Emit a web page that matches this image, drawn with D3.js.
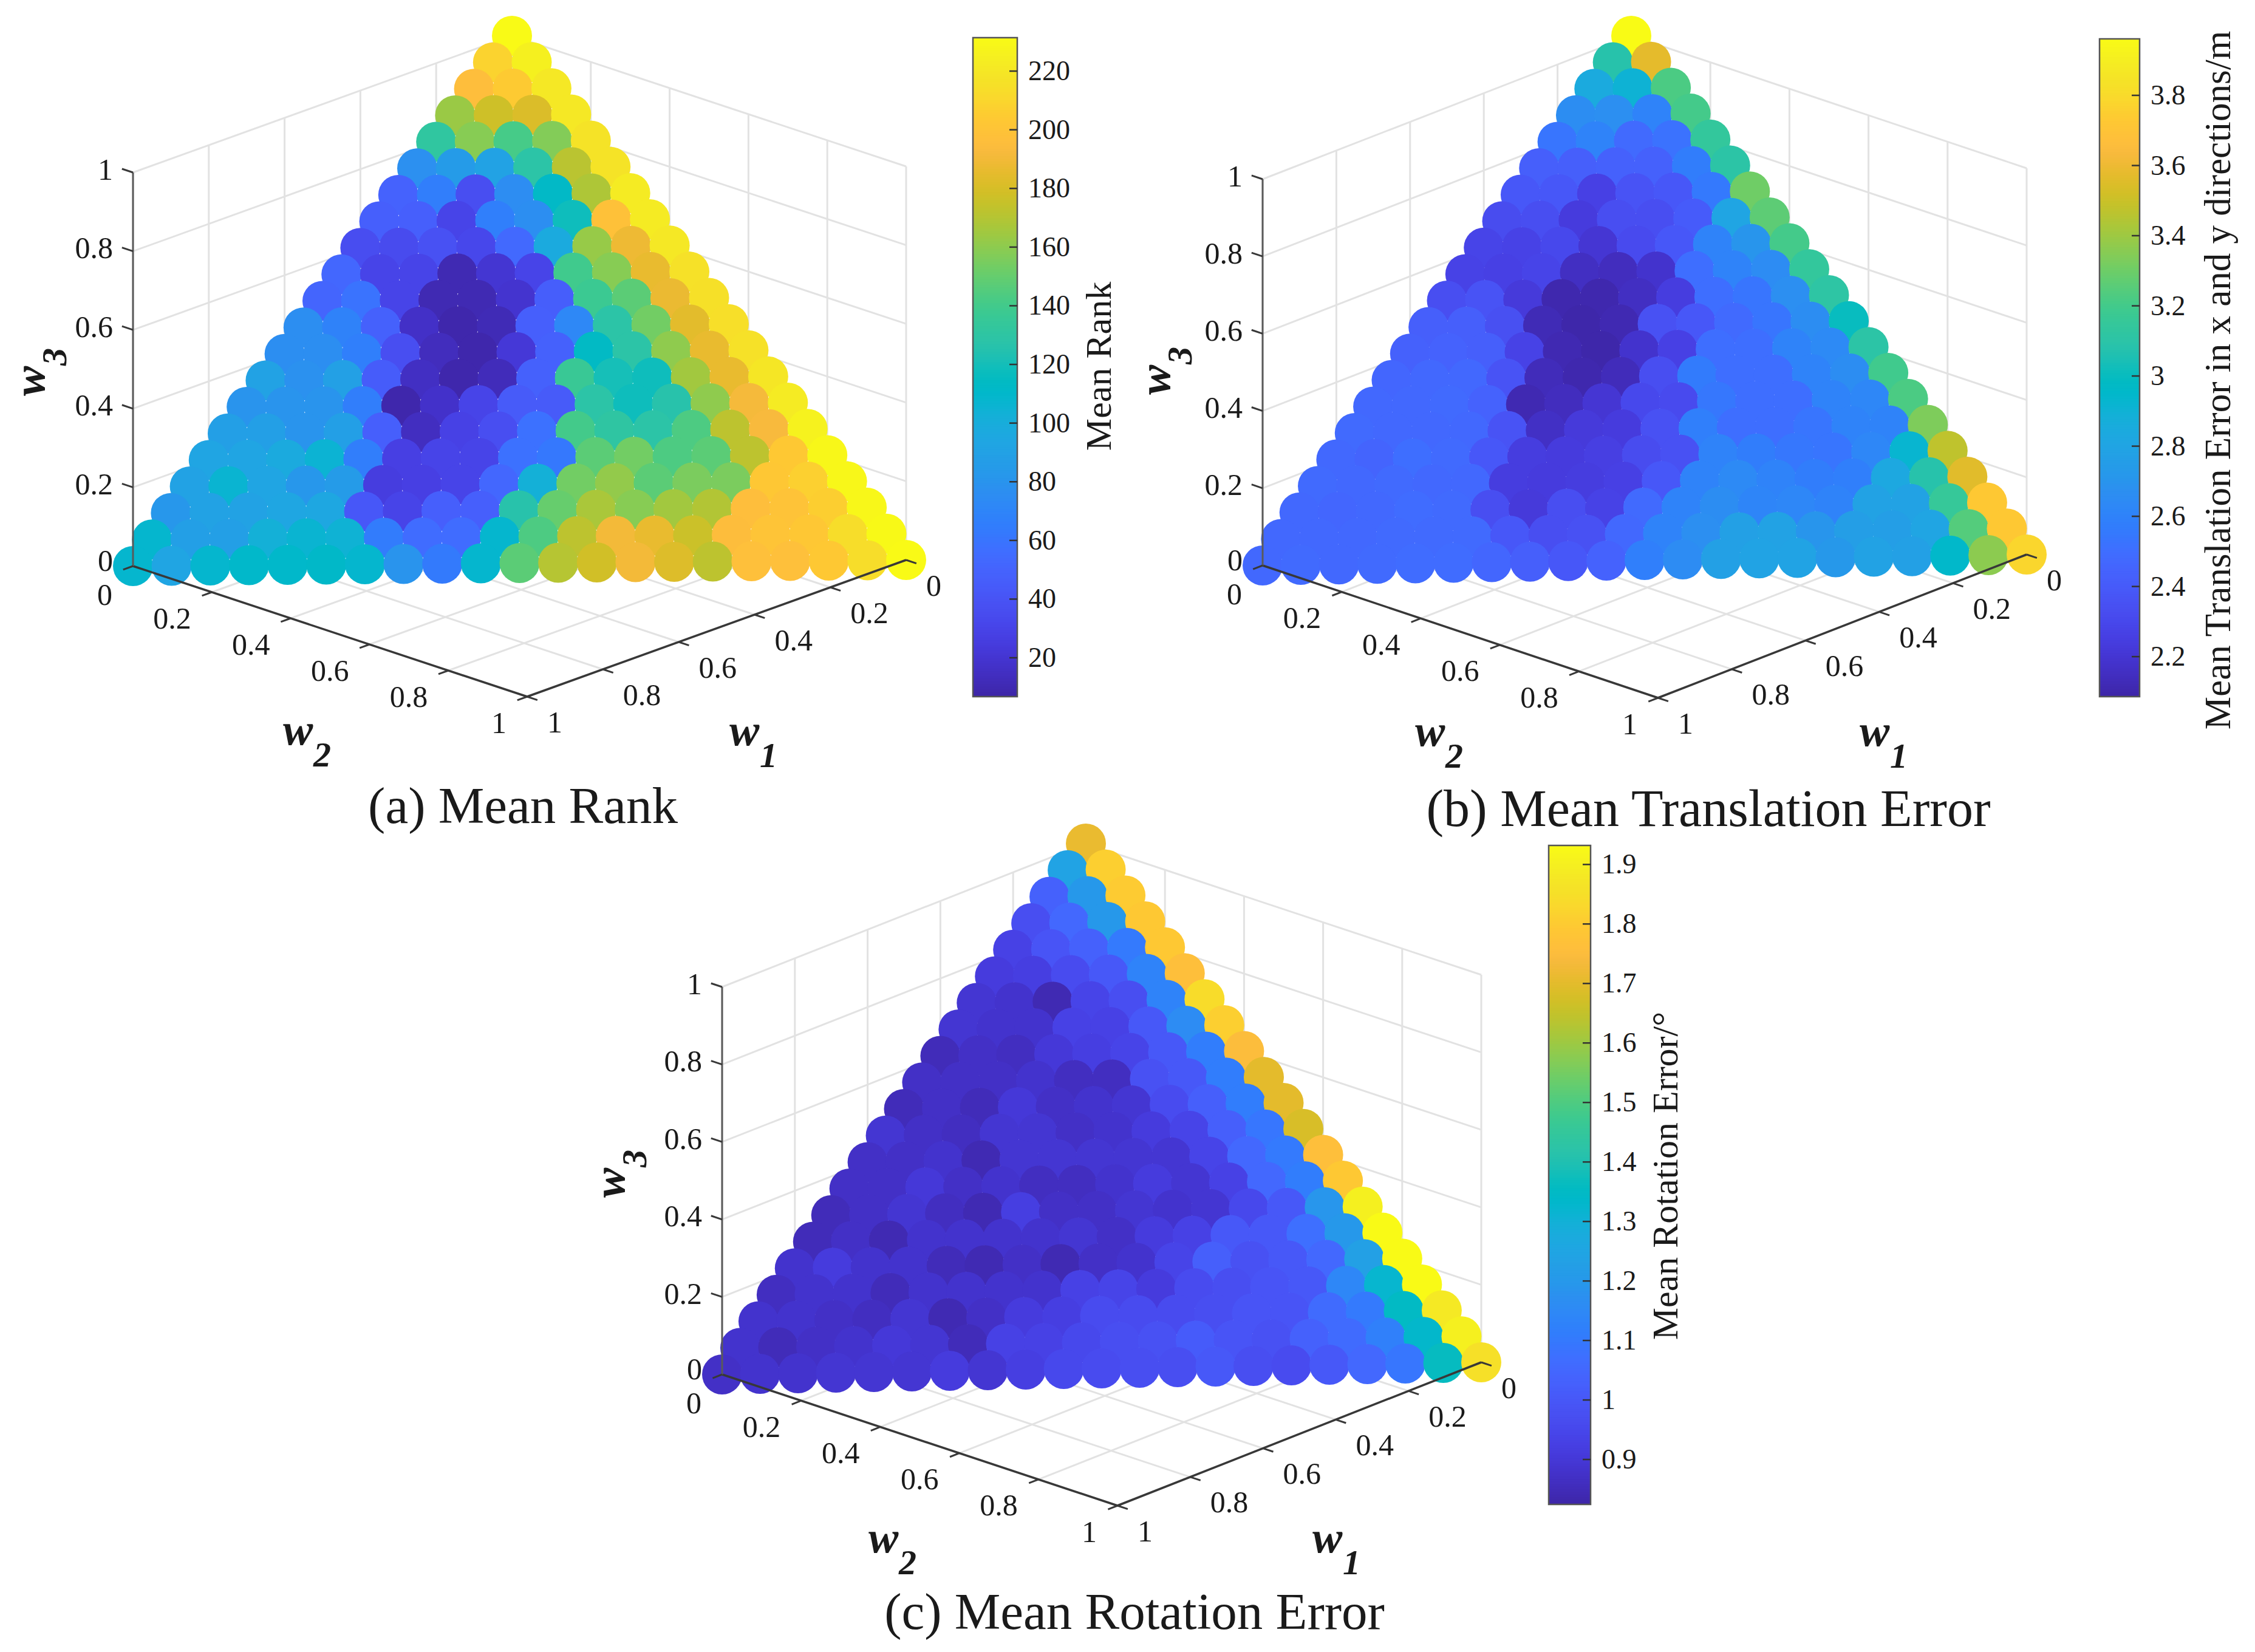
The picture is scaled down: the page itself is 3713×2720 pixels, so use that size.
<!DOCTYPE html>
<html>
<head>
<meta charset="utf-8">
<script src="https://cdn.jsdelivr.net/npm/d3@7"></script>
<style>
  body { margin: 0; background: #fff; }
  text { font-family: "Liberation Serif", serif; fill: #1a1a1a; }
</style>
</head>
<body>
<div id="graph"></div>
<script>
// values per row, from the apex (w3 = 1) down to the base (w3 = 0), left to right
const meanRank = [
  [231],
  [208, 225],
  [196, 204, 220],
  [163, 177, 181, 220],
  [131, 158, 141, 157, 217],
  [77, 85, 90, 128, 171, 217],
  [49, 65, 36, 75, 112, 168, 222],
  [47, 47, 30, 66, 76, 118, 198, 222],
  [35, 34, 38, 32, 53, 97, 162, 188, 220],
  [52, 30, 30, 10, 20, 30, 139, 158, 186, 216],
  [51, 59, 30, 10, 10, 19, 46, 137, 147, 187, 215],
  [76, 68, 48, 16, 8, 11, 47, 72, 128, 153, 184, 214],
  [76, 76, 66, 36, 13, 8, 22, 48, 113, 128, 160, 186, 216],
  [90, 78, 89, 45, 15, 8, 12, 48, 136, 120, 118, 165, 186, 219],
  [80, 80, 80, 65, 8, 17, 30, 44, 44, 128, 118, 126, 160, 191, 222],
  [88, 88, 80, 88, 47, 14, 28, 36, 58, 140, 130, 128, 143, 172, 192, 226],
  [92, 92, 97, 105, 65, 27, 30, 30, 58, 62, 147, 153, 143, 147, 172, 203, 229],
  [90, 106, 92, 82, 85, 25, 27, 30, 52, 102, 153, 161, 147, 155, 155, 202, 207, 229],
  [82, 90, 90, 93, 94, 42, 30, 47, 47, 126, 150, 167, 158, 165, 169, 196, 199, 206, 229],
  [108, 88, 88, 102, 106, 104, 64, 55, 55, 108, 143, 172, 190, 186, 176, 195, 200, 202, 213, 230],
  [108, 92, 108, 110, 110, 111, 108, 80, 63, 108, 147, 170, 178, 190, 182, 172, 197, 197, 203, 213, 231]
];

const meanTranslation = [
  [3.96],
  [3.08, 3.57],
  [2.84, 2.9, 3.22],
  [2.66, 2.67, 2.6, 3.2],
  [2.53, 2.6, 2.48, 2.52, 3.14],
  [2.42, 2.42, 2.43, 2.43, 2.57, 3.1],
  [2.38, 2.38, 2.26, 2.36, 2.38, 2.55, 3.3],
  [2.32, 2.33, 2.23, 2.33, 2.33, 2.4, 2.8, 3.26],
  [2.28, 2.27, 2.3, 2.2, 2.31, 2.38, 2.6, 2.7, 3.2],
  [2.27, 2.26, 2.28, 2.15, 2.14, 2.18, 2.5, 2.6, 2.65, 3.14],
  [2.33, 2.36, 2.22, 2.1, 2.1, 2.15, 2.24, 2.5, 2.53, 2.67, 3.11],
  [2.42, 2.42, 2.34, 2.12, 2.09, 2.11, 2.35, 2.38, 2.48, 2.53, 2.66, 3.0],
  [2.43, 2.44, 2.42, 2.27, 2.11, 2.09, 2.18, 2.26, 2.5, 2.5, 2.6, 2.64, 3.1],
  [2.46, 2.47, 2.47, 2.36, 2.13, 2.1, 2.13, 2.33, 2.56, 2.5, 2.5, 2.6, 2.66, 3.19],
  [2.47, 2.47, 2.48, 2.44, 2.11, 2.14, 2.2, 2.3, 2.31, 2.54, 2.5, 2.5, 2.6, 2.62, 3.22],
  [2.48, 2.47, 2.47, 2.47, 2.36, 2.16, 2.22, 2.23, 2.35, 2.58, 2.5, 2.5, 2.53, 2.6, 2.6, 3.33],
  [2.47, 2.45, 2.5, 2.48, 2.38, 2.24, 2.23, 2.25, 2.32, 2.35, 2.6, 2.57, 2.54, 2.53, 2.62, 2.92, 3.47],
  [2.48, 2.47, 2.48, 2.47, 2.47, 2.24, 2.23, 2.24, 2.26, 2.38, 2.6, 2.64, 2.6, 2.57, 2.58, 2.82, 3.08, 3.56],
  [2.47, 2.46, 2.47, 2.49, 2.48, 2.33, 2.22, 2.33, 2.27, 2.48, 2.6, 2.66, 2.61, 2.62, 2.6, 2.78, 2.78, 3.15, 3.72],
  [2.47, 2.47, 2.47, 2.48, 2.48, 2.48, 2.38, 2.33, 2.35, 2.47, 2.6, 2.67, 2.77, 2.78, 2.7, 2.76, 2.76, 2.8, 3.24, 3.72],
  [2.47, 2.48, 2.47, 2.48, 2.49, 2.49, 2.46, 2.42, 2.38, 2.44, 2.58, 2.65, 2.77, 2.79, 2.79, 2.72, 2.78, 2.77, 2.95, 3.36, 3.78]
];

const meanRotation = [
  [1.71],
  [1.24, 1.81],
  [1.03, 1.2, 1.8],
  [.97, 1.05, 1.2, 1.79],
  [.93, .99, 1.03, 1.1, 1.79],
  [.91, .92, .96, 1.0, 1.13, 1.76],
  [.89, .88, .84, .94, .97, 1.13, 1.84],
  [.89, .88, .88, .93, .93, 1.0, 1.16, 1.81],
  [.85, .87, .86, .9, .92, .94, 1.0, 1.11, 1.75],
  [.87, .87, .87, .88, .86, .86, .98, 1.0, 1.11, 1.7],
  [.85, .87, .85, .9, .87, .88, .89, .96, 1.02, 1.11, 1.7],
  [.89, .87, .86, .89, .89, .87, .88, .91, .94, 1.02, 1.09, 1.68],
  [.87, .87, .88, .84, .89, .89, .89, .89, .89, .94, 1.05, 1.1, 1.76],
  [.87, .87, .9, .87, .88, .86, .86, .88, .91, .89, .93, 1.05, 1.11, 1.79],
  [.85, .87, .89, .86, .84, .92, .87, .87, .89, .88, .89, .95, 1.0, 1.19, 1.9],
  [.85, .87, .84, .88, .88, .88, .88, .89, .87, .91, .93, 1.0, 1.0, 1.07, 1.2, 1.93],
  [.88, .91, .88, .88, .85, .84, .87, .84, .87, .88, .94, 1.02, .98, 1.0, 1.05, 1.23, 1.93],
  [.86, .88, .88, .85, .88, .88, .88, .88, .93, .94, .91, .96, .97, .99, 1.0, 1.14, 1.32, 1.93],
  [.88, .88, .87, .86, .89, .84, .87, .91, .92, .96, .96, .96, .97, .99, .99, 1.06, 1.1, 1.35, 1.88],
  [.88, .85, .87, .88, .9, .89, .85, .93, .93, .95, .97, .98, 1.01, .99, .98, 1.03, 1.06, 1.12, 1.33, 1.9],
  [.87, .88, .88, .89, .89, .89, .91, .89, .92, .95, .96, .97, .97, 1.0, .97, .96, 1.0, 1.05, 1.09, 1.36, 1.85]
];

const axisTicks = [0, 0.2, 0.4, 0.6, 0.8, 1];
const rankTicks = [20, 40, 60, 80, 100, 120, 140, 160, 180, 200, 220];
const translationTicks = [2.2, 2.4, 2.6, 2.8, 3, 3.2, 3.4, 3.6, 3.8];
const rotationTicks = [0.9, 1, 1.1, 1.2, 1.3, 1.4, 1.5, 1.6, 1.7, 1.8, 1.9];

// parula
const parula = [
  [.2422,.1504,.6603],[.2504,.165,.7076],[.2578,.1818,.7511],[.2647,.1978,.7952],
  [.2706,.2147,.8364],[.2751,.2342,.871],[.2783,.2559,.8991],[.2803,.2782,.9221],
  [.2813,.3006,.9414],[.281,.3228,.9579],[.2795,.3447,.9717],[.276,.3667,.9829],
  [.2699,.3892,.9906],[.2602,.4123,.9952],[.244,.4358,.9988],[.2206,.4603,.9973],
  [.1963,.4847,.9892],[.1834,.5074,.9798],[.1786,.5289,.9682],[.1764,.5499,.952],
  [.1687,.5703,.9359],[.154,.5902,.9218],[.146,.6091,.9079],[.138,.6276,.8973],
  [.1248,.6459,.8883],[.1113,.6635,.8763],[.0952,.6798,.8598],[.0689,.6948,.8394],
  [.0297,.7082,.8163],[.0036,.7203,.7917],[.0067,.7312,.766],[.0433,.7411,.7394],
  [.0964,.75,.712],[.1408,.7584,.6842],[.1717,.767,.6554],[.1938,.7758,.6251],
  [.2161,.7843,.5923],[.247,.7918,.5567],[.2906,.7973,.5188],[.3406,.8008,.4789],
  [.3909,.8029,.4354],[.4456,.8024,.3909],[.5044,.7993,.348],[.5616,.7942,.3045],
  [.6174,.7876,.2612],[.672,.7793,.2227],[.7242,.7698,.191],[.7738,.7598,.1646],
  [.8203,.7498,.1535],[.8634,.7406,.1596],[.9035,.733,.1774],[.9393,.7288,.21],
  [.9728,.7298,.2394],[.9956,.7434,.2371],[.997,.7659,.2199],[.9952,.7861,.1999],
  [.9892,.8134,.1884],[.9786,.8422,.1766],[.9676,.8725,.161],[.961,.889,.1537],
  [.9597,.9135,.1423],[.9626,.9373,.1265],[.9691,.9606,.1064],[.9769,.9839,.0805]
].map(c => d3.rgb(c[0] * 255, c[1] * 255, c[2] * 255).formatRgb());

const panels = [
  { values: meanRank, domain: [6.75, 231.4], ticks: rankTicks, title: 'Mean Rank', caption: '(a) Mean Rank',
    left: [219, 932], right: [1492, 922], bottom: [868, 1147], height: 648,
    w1Label: [1201, 1227], w2Label: [466, 1226], w3Label: [73, 652],
    bar: [1602, 1675, 62, 1147], barRange: [1147, 62], titleX: 1811, titleY: 603, titleSize: 60,
    captionAt: [861, 1355], captionSize: 85 },
  { values: meanTranslation, domain: [2.086, 3.961], ticks: translationTicks, title: 'Mean Translation Error in x and y directions/m', caption: '(b) Mean Translation Error',
    left: [2079, 931], right: [3337, 913], bottom: [2730, 1149], height: 636,
    w1Label: [3062, 1228], w2Label: [2330, 1228], w3Label: [1926, 650],
    bar: [3457, 3523, 64, 1147], barRange: [1147, 64], titleX: 3654, titleY: 626, titleSize: 61,
    captionAt: [2813, 1360], captionSize: 86 },
  { values: meanRotation, domain: [0.8245, 1.932], ticks: rotationTicks, title: 'Mean Rotation Error/°', caption: '(c) Mean Rotation Error',
    left: [1189, 2263], right: [2439, 2243], bottom: [1840, 2479], height: 638,
    w1Label: [2161, 2556], w2Label: [1430, 2556], w3Label: [1028, 1972],
    bar: [2550, 2619, 1392, 2477], barRange: [2477, 1392], titleX: 2744, titleY: 1936, titleSize: 60,
    captionAt: [1868, 2682], captionSize: 85 }
];

const svg = d3.select('#graph').append('svg')
  .attr('width', 3713)
  .attr('height', 2720)
  .style('display', 'block');

const gridColor = '#e2e2e2';
const axisColor = '#383838';

function drawPanel(p) {
  const g = svg.append('g');
  const ox = p.left[0] + p.right[0] - p.bottom[0];
  const oy = p.left[1] + p.right[1] - p.bottom[1];

  // one scale per axis, the three get added up for the projection
  const x1 = d3.scaleLinear().domain([0, 1]).range([0, p.left[0] - ox]);
  const y1 = d3.scaleLinear().domain([0, 1]).range([0, p.left[1] - oy]);
  const x2 = d3.scaleLinear().domain([0, 1]).range([0, p.right[0] - ox]);
  const y2 = d3.scaleLinear().domain([0, 1]).range([0, p.right[1] - oy]);
  const yz = d3.scaleLinear().domain([0, 1]).range([0, -p.height]);
  const px = (a, b) => ox + x1(a) + x2(b);
  const py = (a, b, c) => oy + y1(a) + y2(b) + yz(c);

  const color = d3.scaleLinear()
    .domain(d3.range(parula.length).map(i => p.domain[0] + (p.domain[1] - p.domain[0]) * i / (parula.length - 1)))
    .range(parula)
    .clamp(true);

  const seg = (sel, a, b, stroke, width) => sel.append('line')
    .attr('x1', px(a[0], a[1])).attr('y1', py(a[0], a[1], a[2]))
    .attr('x2', px(b[0], b[1])).attr('y2', py(b[0], b[1], b[2]))
    .attr('stroke', stroke).attr('stroke-width', width);

  // grid on floor and the two back walls
  const grid = g.append('g');
  axisTicks.forEach(t => {
    seg(grid, [t, 0, 0], [t, 1, 0], gridColor, 3);
    seg(grid, [0, t, 0], [1, t, 0], gridColor, 3);
    seg(grid, [t, 0, 0], [t, 0, 1], gridColor, 3);
    seg(grid, [0, t, 0], [0, t, 1], gridColor, 3);
    seg(grid, [0, 0, t], [1, 0, t], gridColor, 3);
    seg(grid, [0, 0, t], [0, 1, t], gridColor, 3);
  });

  // points, upper rows first so the lower ones sit on top
  const points = [];
  p.values.forEach((row, r) => {
    const w3 = (20 - r) * 0.05;
    row.forEach((v, i) => {
      const w2 = i * 0.05;
      points.push({ w1: 1 - w3 - w2, w2: w2, w3: w3, v: v });
    });
  });
  g.append('g').selectAll('circle')
    .data(points)
    .enter().append('circle')
    .attr('cx', d => px(d.w1, d.w2))
    .attr('cy', d => py(d.w1, d.w2, d.w3))
    .attr('r', 33)
    .attr('fill', d => color(d.v));

  // axes and ticks
  const axes = g.append('g');
  seg(axes, [1, 0, 0], [1, 1, 0], axisColor, 3.5);
  seg(axes, [0, 1, 0], [1, 1, 0], axisColor, 3.5);
  seg(axes, [1, 0, 0], [1, 0, 1], '#5a5a5a', 3);
  axisTicks.forEach(t => {
    seg(axes, [1, t, 0], [1.026, t, 0], axisColor, 3);
    seg(axes, [t, 1, 0], [t, 1.026, 0], axisColor, 3);
    if (t > 0) seg(axes, [1, 0, t], [1, -0.028, t], axisColor, 3);
  });

  const label = (x, y, anchor, t) => axes.append('text')
    .attr('x', x).attr('y', y + 16.5)
    .attr('text-anchor', anchor)
    .attr('font-size', 50)
    .text(t);
  axisTicks.forEach(t => {
    // the two zeros at the left corner sit close, keep them apart
    const gap = t === 0 ? 4 : 0;
    label(px(1, 0) - 33, py(1, 0, t) - 5 - gap, 'end', t);
    label(px(1, t) - 34, py(1, t, 0) + 43 + gap, 'end', t);
    label(px(t, 1) + 33, py(t, 1, 0) + 42, 'start', t);
  });

  // w labels
  const wLabel = (at, sub, rotated) => {
    const l = g.append('g')
      .attr('transform', `translate(${at[0]},${at[1]})` + (rotated ? ' rotate(-90)' : ''))
      .attr('font-weight', 'bold')
      .attr('font-style', 'italic');
    l.append('text').attr('font-size', 74).text('w');
    l.append('text').attr('x', 50).attr('y', 36).attr('font-size', 58).text(sub);
  };
  wLabel(p.w1Label, '1', false);
  wLabel(p.w2Label, '2', false);
  wLabel(p.w3Label, '3', true);

  // colorbar
  const bar = g.append('g');
  const barY = d3.scaleLinear().domain(p.domain).range(p.barRange);
  const steps = d3.range(0, 256).map(i => p.domain[0] + (p.domain[1] - p.domain[0]) * i / 256);
  const stepH = (p.bar[3] - p.bar[2]) / 256;
  bar.selectAll('rect.step')
    .data(steps)
    .enter().append('rect')
    .attr('class', 'step')
    .attr('x', p.bar[0])
    .attr('y', d => barY(d) - stepH - 0.5)
    .attr('width', p.bar[1] - p.bar[0])
    .attr('height', stepH + 1)
    .attr('fill', d => color(d));
  bar.append('rect')
    .attr('x', p.bar[0]).attr('y', p.bar[2])
    .attr('width', p.bar[1] - p.bar[0]).attr('height', p.bar[3] - p.bar[2])
    .attr('fill', 'none').attr('stroke', '#555').attr('stroke-width', 2.5);
  bar.selectAll('line')
    .data(p.ticks)
    .enter().append('line')
    .attr('x1', p.bar[1] - 13).attr('x2', p.bar[1])
    .attr('y1', d => barY(d)).attr('y2', d => barY(d))
    .attr('stroke', '#333').attr('stroke-width', 2.5);
  bar.selectAll('text')
    .data(p.ticks)
    .enter().append('text')
    .attr('x', p.bar[1] + 18)
    .attr('y', d => barY(d) + 15)
    .attr('font-size', 46)
    .text(d => d);
  g.append('text')
    .attr('transform', `translate(${p.titleX},${p.titleY}) rotate(-90)`)
    .attr('text-anchor', 'middle')
    .attr('dy', '0.3em')
    .attr('font-size', p.titleSize)
    .text(p.title);

  g.append('text')
    .attr('x', p.captionAt[0]).attr('y', p.captionAt[1])
    .attr('text-anchor', 'middle')
    .attr('font-size', p.captionSize)
    .text(p.caption);
}

panels.forEach(drawPanel);
</script>
</body>
</html>
